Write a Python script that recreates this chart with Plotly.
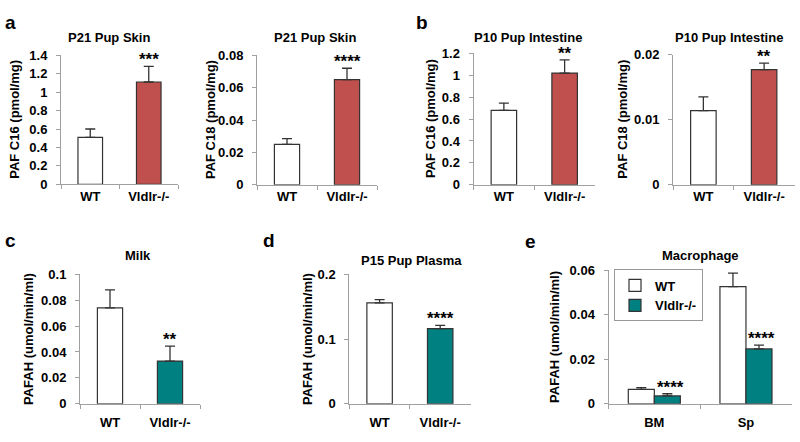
import plotly.graph_objects as go

# ---------------- data ----------------
genotypes = ["WT", "Vldlr-/-"]

skin_c16 = [0.51, 1.11]
skin_c16_err = [0.09, 0.17]
skin_c18 = [0.025, 0.065]
skin_c18_err = [0.0035, 0.007]

int_c16 = [0.68, 1.02]
int_c16_err = [0.065, 0.12]
int_c18 = [0.0114, 0.0177]
int_c18_err = [0.0021, 0.001]

milk = [0.074, 0.033]
milk_err = [0.014, 0.0115]

plasma = [0.156, 0.116]
plasma_err = [0.005, 0.005]

macro_groups = ["BM", "Sp"]
macro_wt = [0.0065, 0.0526]
macro_wt_err = [0.0007, 0.006]
macro_ko = [0.0035, 0.0246]
macro_ko_err = [0.001, 0.0017]

stars_skin_c16 = "***"
stars_skin_c18 = "****"
stars_int_c16 = "**"
stars_int_c18 = "**"
stars_milk = "**"
stars_plasma = "****"
stars_macro = ["****", "****"]

# ---------------- style ----------------
W, H = 800, 442
FONT = "Liberation Sans, Arial, sans-serif"
RED = "#C0504D"
TEAL = "#008080"
OUT = "#333333"
AXC = "#a0a0a0"
STAR_SIZE = 17


def px(x):
    return x / W


def py(y):
    return 1 - y / H


fig = go.Figure()

panels = [
    (1, skin_c16, skin_c16_err, ["white", RED], stars_skin_c16, "PAF C16 (pmol/mg)", "P21 Pup Skin",
     (0, 1.4, 0.2), (61, 178, 50, 183.5), 15, (109, 32), 0),
    (2, skin_c18, skin_c18_err, ["white", RED], stars_skin_c18, "PAF C18 (pmol/mg)", "P21 Pup Skin",
     (0, 0.08, 0.02), (257, 377, 50, 184), 210, (315, 32), 0),
    (3, int_c16, int_c16_err, ["white", RED], stars_int_c16, "PAF C16 (pmol/mg)", "P10 Pup Intestine",
     (0, 1.2, 0.2), (473.5, 595, 48, 184), 430, (528, 32), 0),
    (4, int_c18, int_c18_err, ["white", RED], stars_int_c18, "PAF C18 (pmol/mg)", "P10 Pup Intestine",
     (0, 0.02, 0.01), (673, 794.5, 49.3, 184), 623, (729, 32), 0),
    (5, milk, milk_err, ["white", TEAL], stars_milk, "PAFAH (umol/min/ml)", "Milk",
     (0, 0.1, 0.02), (80, 200, 276.7, 410.7), 28, (138, 257), 7),
    (6, plasma, plasma_err, ["white", TEAL], stars_plasma, "PAFAH (umol/min/ml)", "P15 Pup Plasma",
     (0, 0.2, 0.1), (349.3, 470.5, 276.7, 410.7), 307, (411, 262), 7),
]

annotations = []


def axis_common():
    return dict(showgrid=False, zeroline=False, showline=True, linecolor=AXC, linewidth=1,
                ticks="outside", ticklen=4, tickcolor=AXC,
                tickfont=dict(family=FONT, size=13, color="black", weight="bold"))


for idx, vals, errs, cols, stars, ytitle, title, yr, dom, ytx, tpos, xstand in panels:
    xa = "x" if idx == 1 else f"x{idx}"
    ya = "y" if idx == 1 else f"y{idx}"
    fig.add_trace(go.Bar(
        x=genotypes, y=vals, xaxis=xa, yaxis=ya, width=0.42,
        marker=dict(color=cols, line=dict(color=OUT, width=1.2)),
        error_y=dict(type="data", array=errs, arrayminus=[0] * len(errs), symmetric=False,
                     color=OUT, thickness=1.3, width=5),
        showlegend=False,
    ))
    xk = "xaxis" if idx == 1 else f"xaxis{idx}"
    yk = "yaxis" if idx == 1 else f"yaxis{idx}"
    x0, x1, y0, y1 = dom
    fig.layout[xk] = dict(domain=[px(x0), px(x1)], anchor=ya, type="category",
                          range=[-0.5, 1.5], tickson="boundaries",
                          ticklabelstandoff=xstand, **axis_common())
    fig.layout[yk] = dict(domain=[py(y1), py(y0)], anchor=xa, range=[yr[0], yr[1]],
                          dtick=yr[2], tick0=0, ticklabelstandoff=6, **axis_common())
    annotations.append(dict(xref=xa, yref=ya, x=genotypes[1], y=vals[1] + errs[1],
                            text=f"<b>{stars}</b>", showarrow=False, xanchor="center", yanchor="bottom",
                            yshift=-5, font=dict(family=FONT, size=STAR_SIZE, color="black")))
    annotations.append(dict(xref="paper", yref="paper", x=px(ytx), y=py((y0 + y1) / 2),
                            text=f"<b>{ytitle}</b>", textangle=-90, showarrow=False,
                            xanchor="center", yanchor="middle",
                            font=dict(family=FONT, size=13, color="black")))
    annotations.append(dict(xref="paper", yref="paper", x=px(tpos[0]), y=py(tpos[1]),
                            text=f"<b>{title}</b>", showarrow=False,
                            xanchor="center", yanchor="middle",
                            font=dict(family=FONT, size=13, color="black")))

# panel e: grouped bars
bw = 0.284
fig.add_trace(go.Bar(
    x=macro_groups, y=macro_wt, xaxis="x7", yaxis="y7", name="WT",
    width=bw, offset=-bw,
    marker=dict(color="white", line=dict(color=OUT, width=1.2)),
    error_y=dict(type="data", array=macro_wt_err, arrayminus=[0, 0], symmetric=False,
                 color=OUT, thickness=1.3, width=5),
))
fig.add_trace(go.Bar(
    x=macro_groups, y=macro_ko, xaxis="x7", yaxis="y7", name="Vldlr-/-",
    width=bw, offset=0,
    marker=dict(color=TEAL, line=dict(color=OUT, width=1.2)),
    error_y=dict(type="data", array=macro_ko_err, arrayminus=[0, 0], symmetric=False,
                 color=OUT, thickness=1.3, width=5),
))
fig.layout["xaxis7"] = dict(domain=[px(608.5), px(791.8)], anchor="y7", type="category",
                            range=[-0.5, 1.5], tickson="boundaries", ticklabelstandoff=7,
                            **axis_common())
fig.layout["yaxis7"] = dict(domain=[py(410.7), py(272.3)], anchor="x7", range=[0, 0.06],
                            dtick=0.02, tick0=0, ticklabelstandoff=6, **axis_common())
for g, v, e, s in zip(macro_groups, macro_ko, macro_ko_err, stars_macro):
    annotations.append(dict(xref="x7", yref="y7", x=g, y=v + e, text=f"<b>{s}</b>",
                            showarrow=False, xanchor="center", yanchor="bottom",
                            xshift=bw * 91.7 / 2 + 3, yshift=-5,
                            font=dict(family=FONT, size=STAR_SIZE, color="black")))
annotations.append(dict(xref="paper", yref="paper", x=px(555), y=py((272.3 + 410.7) / 2),
                        text="<b>PAFAH (umol/min/ml)</b>", textangle=-90, showarrow=False,
                        xanchor="center", yanchor="middle",
                        font=dict(family=FONT, size=13, color="black")))
annotations.append(dict(xref="paper", yref="paper", x=px(700), y=py(257),
                        text="<b>Macrophage</b>", showarrow=False,
                        xanchor="center", yanchor="middle",
                        font=dict(family=FONT, size=13, color="black")))

for letter, lx, ly in [("a", 10, 16), ("b", 422, 16), ("c", 10, 242), ("d", 269, 242), ("e", 530, 243)]:
    annotations.append(dict(xref="paper", yref="paper", x=px(lx), y=py(ly), text=f"<b>{letter}</b>",
                            showarrow=False, xanchor="center", yanchor="middle",
                            font=dict(family=FONT, size=19, color="black")))

fig.update_layout(
    width=W, height=H,
    margin=dict(l=0, r=0, t=0, b=0),
    paper_bgcolor="white", plot_bgcolor="white",
    font=dict(family=FONT, size=13, color="black"),
    barmode="group",
    annotations=annotations,
    showlegend=True,
    legend=dict(x=px(614), y=py(271.7), xanchor="left", yanchor="top",
                bgcolor="white", bordercolor="#999999", borderwidth=1,
                font=dict(family=FONT, size=13, color="black", weight="bold"),
                itemwidth=30, tracegroupgap=0),
)

fig.write_html("out.html", config={"displayModeBar": False},
               post_script="document.body.style.margin='0px';")
